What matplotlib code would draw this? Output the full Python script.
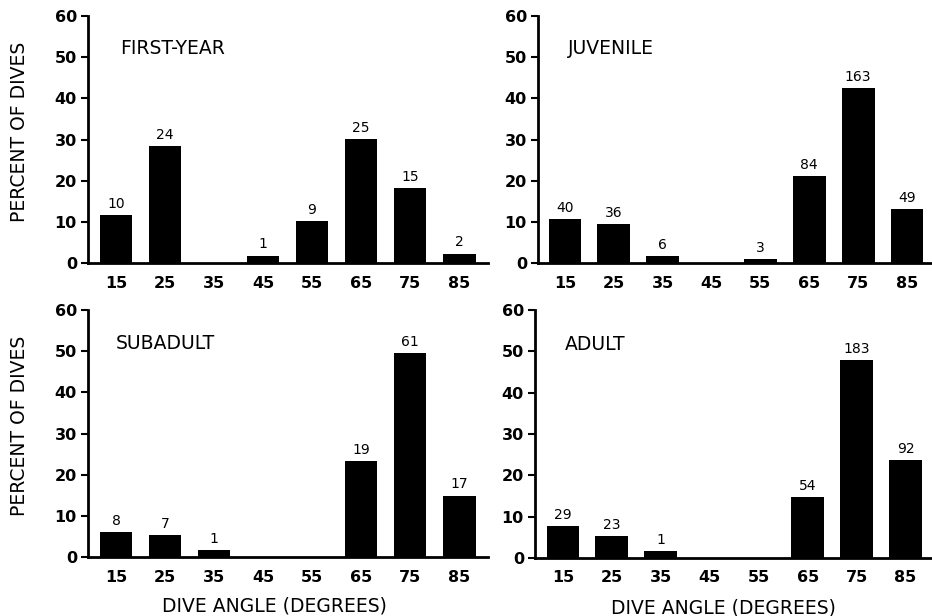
import matplotlib
matplotlib.use("Agg")
import matplotlib.pyplot as plt

angles = [15, 25, 35, 45, 55, 65, 75, 85]
yticks = [0, 10, 20, 30, 40, 50, 60]

groups = ["FIRST-YEAR", "JUVENILE", "SUBADULT", "ADULT"]

first_year_pct = [11.6, 28.4, 0, 1.8, 10.2, 30.1, 18.2, 2.3]
first_year_n = ["10", "24", "", "1", "9", "25", "15", "2"]

juvenile_pct = [10.7, 9.5, 1.7, 0, 1.0, 21.2, 42.5, 13.1]
juvenile_n = ["40", "36", "6", "", "3", "84", "163", "49"]

subadult_pct = [6.0, 5.4, 1.7, 0, 0, 23.3, 49.6, 14.9]
subadult_n = ["8", "7", "1", "", "", "19", "61", "17"]

adult_pct = [7.8, 5.4, 1.6, 0, 0, 14.7, 47.9, 23.7]
adult_n = ["29", "23", "1", "", "", "54", "183", "92"]

W, H = 932, 616
fig = plt.figure(figsize=(W / 100, H / 100), dpi=100)

def box(left, right, top, bottom):
    return [left / W, 1 - bottom / H, (right - left) / W, (bottom - top) / H]

panels = [
    (box(88, 488, 16, 263), first_year_pct, first_year_n, groups[0], (9.3, 90.9), (0.08, 0.87), 0.465),
    (box(538, 931, 16, 263), juvenile_pct, juvenile_n, groups[1], (9.5, 89.9), (0.076, 0.87), 0.477),
    (box(88, 488, 310, 557), subadult_pct, subadult_n, groups[2], (9.3, 90.9), (0.07, 0.865), 0.465),
    (box(535, 931, 310, 558), adult_pct, adult_n, groups[3], (9.3, 90.2), (0.076, 0.86), 0.477),
]

for i, (rect, pct, ns, title, xlim, tpos, xlab_x) in enumerate(panels):
    ax = fig.add_axes(rect)
    bars = ax.bar(angles, pct, width=6.7, color="black")
    for b, n in zip(bars, ns):
        if n:
            ax.annotate(n, (b.get_x() + b.get_width() / 2, b.get_height()),
                        xytext=(0, 3), textcoords="offset points",
                        ha="center", va="bottom", fontsize=10)
    ax.set_xlim(*xlim)
    ax.set_ylim(0, 60)
    ax.set_xticks(angles)
    ax.set_xticklabels([str(a) for a in angles], fontsize=11.5, fontweight="bold")
    ax.set_yticks(yticks)
    ax.set_yticklabels([str(t) for t in yticks], fontsize=11.5, fontweight="bold")
    ax.tick_params(axis="x", length=0, pad=9)
    ax.tick_params(axis="y", length=5, width=1.5, pad=3, direction="out")
    for s in ["top", "right"]:
        ax.spines[s].set_visible(False)
    ax.spines["left"].set_linewidth(2)
    ax.spines["bottom"].set_linewidth(2)
    ax.text(tpos[0], tpos[1], title, transform=ax.transAxes, fontsize=13.5,
            ha="left", va="center")
    if i % 2 == 0:
        ax.set_ylabel("PERCENT OF DIVES", fontsize=13.5, va="center")
        ax.yaxis.set_label_coords(-0.17, 0.53)
    if i >= 2:
        ax.set_xlabel("DIVE ANGLE (DEGREES)", fontsize=13.5, va="center")
        ax.xaxis.set_label_coords(xlab_x, -0.20)

fig.savefig("out.png", dpi=100)
